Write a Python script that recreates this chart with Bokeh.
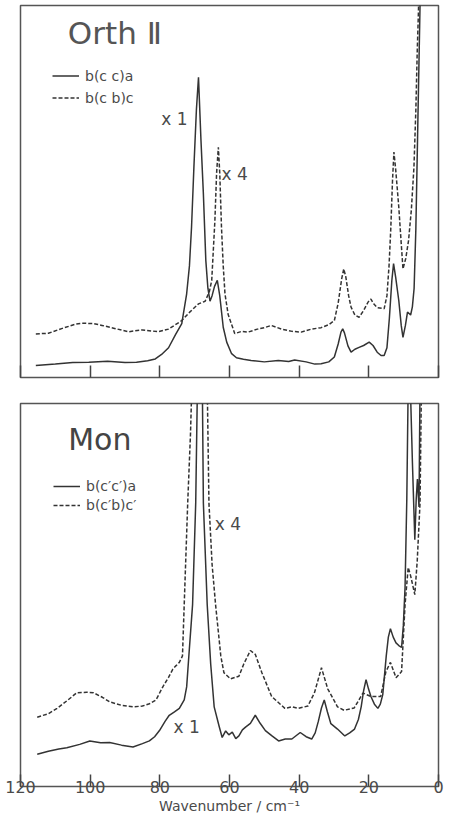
from bokeh.plotting import figure
from bokeh.layouts import column
from bokeh.models import Range1d, FixedTicker, Legend, LegendItem, Label
from bokeh.embed import file_html
from bokeh.resources import INLINE

TICKS = [120, 100, 80, 60, 40, 20, 0]
TICK_LABELS = ["120", "100", "80", "60", "40", "20", "0"]

# ---- Orth II : b(cc)a  (x1) ----
orth_cc_x = [115.6, 110, 105, 100.4, 95, 90, 86.7, 83.5, 81.3, 79.5,
             77.5, 75.5, 73.7, 72.3, 71.5, 70.9, 70.2, 69.5, 68.9, 68.2,
             67.5, 66.8, 66.2, 65.6, 65.0, 64.3, 63.5, 62.8, 61.8, 60.8,
             59.4, 58.0, 56.0, 53.8, 50, 46, 43, 41.3, 38, 35.5,
             33.7, 31.5, 29.9, 28.8, 28.0, 27.5, 27.0, 26.0, 25.1, 24.0,
             22.8, 21.5, 19.9, 18.8, 17.6, 16.5, 15.6, 14.8, 14.1, 13.4,
             12.9, 12.3, 11.4, 10.7, 10.2, 9.5, 8.9, 8.0, 7.5, 7.0,
             6.5, 6.0, 5.6, 5.3, 5.0]
orth_cc_y = [3.2, 3.6, 4.0, 4.1, 4.4, 4.0, 4.1, 4.5, 5.0, 6.2,
             8.0, 11.5, 14.5, 22.5, 30.0, 40.4, 57.0, 72.0, 80.7, 64.0,
             49.4, 31.5, 24.0, 20.5, 22.0, 24.5, 26.1, 22.0, 13.5, 9.5,
             6.4, 5.3, 4.9, 4.6, 4.2, 4.6, 4.3, 4.7, 4.2, 3.6,
             3.7, 4.2, 5.5, 9.0, 12.2, 13.1, 12.0, 8.5, 6.8, 7.6,
             8.1, 8.6, 9.5, 8.6, 6.8, 5.9, 5.9, 8.0, 16.0, 26.0,
             30.6, 27.0, 20.7, 14.0, 10.8, 14.0, 17.6, 16.8, 19.0, 24.0,
             40.0, 65.0, 85.0, 100.0, 112.0]

# ---- Orth II : b(cb)c  (x4) ----
orth_cb_x = [115.6, 112, 108, 104, 102.3, 99, 96.6, 93, 89, 85,
             80.4, 77.5, 73.7, 71.5, 68.9, 67.0, 65.8, 65.1, 64.6, 64.2,
             63.7, 63.2, 62.8, 62.3, 61.8, 61.3, 60.4, 58.5, 56.5, 54.7,
             52, 50, 48, 45, 42, 39.4, 36.5, 33.7, 31.5, 29.9,
             28.8, 27.8, 27.2, 26.6, 25.8, 25.1, 24.0, 22.8, 21.5, 20.2,
             19.4, 18.6, 17.6, 16.3, 15.6, 14.8, 14.2, 13.7, 13.2, 12.8,
             12.3, 11.4, 10.7, 10.2, 9.4, 8.6, 7.8, 7.05, 6.5, 6.1,
             5.8, 5.5]
orth_cb_y = [11.7, 11.9, 13.2, 14.4, 14.6, 14.5, 14.0, 13.2, 12.3, 12.8,
             12.3, 13.0, 15.3, 17.5, 19.8, 20.5, 23.0, 26.1, 35.0, 42.0,
             55.0, 61.9, 55.0, 40.4, 30.0, 22.5, 17.0, 11.8, 12.4, 12.2,
             13.0, 13.4, 14.0, 13.0, 12.4, 12.2, 13.0, 13.4, 14.2, 15.3,
             20.0, 26.5, 29.2, 27.0, 22.0, 18.9, 16.8, 16.2, 18.0, 20.3,
             21.1, 19.8, 18.8, 18.6, 18.5, 22.0, 30.0, 40.0, 53.0, 60.6,
             56.0, 45.8, 36.0, 29.2, 32.0, 36.8, 45.0, 56.5, 72.0, 87.9,
             97.0, 108.0]

# ---- Mon : b(c'c')a  (x1) ----
mon_cc_x = [115.2, 112, 109, 106.7, 103, 100.1, 97, 94.4, 91, 87.7,
            85, 83, 81.5, 80.1, 78.5, 77.3, 75.8, 74.4, 73.0, 72.3,
            71.6, 70.6, 69.7, 69.2, 67.8, 67.5, 66.4, 65.4, 64.4, 63.0,
            62.1, 61.1, 60.2, 59.2, 58.2, 57.3, 56.3, 55.4, 54.0, 52.6,
            51.2, 49.7, 47.8, 45.9, 44.0, 42.1, 39.7, 38.0, 36.4, 35.4,
            34.5, 33.6, 32.8, 31.9, 30.9, 29.0, 26.9, 25.5, 24.1, 23.0,
            22.2, 21.5, 20.8, 20.1, 19.4, 18.4, 17.4, 16.7, 16.0, 15.5,
            15.0, 14.4, 13.8, 13.0, 12.2, 11.4, 10.6, 10.1, 9.6, 9.1,
            8.7, 8.1, 7.5, 6.8, 6.4, 6.05, 5.6, 5.3]
mon_cc_y = [8.4, 9.2, 9.8, 10.1, 11.0, 11.9, 11.4, 11.5, 10.8, 10.3,
            11.2, 11.9, 13.0, 14.6, 17.0, 18.6, 19.5, 20.4, 22.6, 26.0,
            35.0, 47.5, 74.0, 105.0, 105.0, 74.0, 47.5, 32.0, 20.8, 15.8,
            12.8, 14.5, 13.5, 14.2, 12.5, 13.2, 14.8, 15.5, 16.5, 18.6,
            16.5, 14.6, 13.2, 11.9, 12.4, 12.4, 14.1, 13.0, 12.4, 14.0,
            17.0, 20.5, 22.6, 19.5, 16.4, 15.0, 13.2, 14.0, 15.0, 17.5,
            20.8, 25.0, 27.9, 25.5, 23.5, 21.5, 20.4, 21.5, 24.0, 29.0,
            34.1, 39.0, 41.2, 39.0, 37.5, 36.8, 36.3, 42.0, 52.0, 75.0,
            105.0, 105.0, 85.0, 64.4, 75.0, 80.3, 73.0, 105.0]

# ---- Mon : b(c'b)c'  (x4) ----
mon_cb_x = [115.2, 112, 109.5, 106.5, 103.8, 101, 99.1, 96.5, 94.4, 91,
            87.7, 85, 83, 81.1, 79.1, 77.5, 76.3, 75.4, 74.4, 73.5,
            73.0, 72.0, 71.2, 70.8, 66.4, 65.9, 65.0, 64.0, 62.5, 61.6,
            59.7, 57.3, 55.9, 54.0, 52.6, 50.7, 47.9, 44.1, 42.0, 40.3,
            37.5, 35.6, 33.6, 31.8, 29.0, 27.1, 24.2, 21.7, 19.4, 16.6,
            15.1, 13.8, 12.2, 10.6, 9.6, 8.7, 8.0, 6.8, 6.1, 5.3,
            4.9]
mon_cb_y = [18.1, 19.0, 20.4, 22.5, 24.5, 24.6, 24.5, 23.3, 22.1, 21.2,
            20.8, 21.0, 21.6, 22.6, 26.1, 28.5, 30.6, 31.5, 32.4, 34.1,
            47.5, 74.0, 92.0, 105.0, 105.0, 74.0, 58.0, 47.5, 34.1, 29.7,
            28.1, 28.8, 32.0, 35.5, 34.5, 29.7, 23.5, 20.4, 20.8, 20.4,
            21.0, 24.5, 31.0, 25.5, 20.8, 19.9, 20.5, 24.4, 23.5, 23.5,
            30.0, 32.4, 28.4, 30.0, 47.5, 57.2, 55.0, 50.1, 59.0, 74.1,
            105.0]

LINE = "#333333"
TEXT = "#4a4a4a"
FONT = "DejaVu Sans"


def make_fig(height, mb_left, mb_right, mb_top, mb_bottom):
    p = figure(width=452, height=height, x_range=Range1d(120, 0), y_range=Range1d(0, 100),
               output_backend="svg", toolbar_location=None,
               min_border_left=mb_left, min_border_right=mb_right,
               min_border_top=mb_top, min_border_bottom=mb_bottom)
    p.yaxis.visible = False
    p.grid.visible = False
    p.outline_line_color = "#555555"
    p.outline_line_width = 1.5
    xa = p.xaxis[0]
    xa.ticker = FixedTicker(ticks=TICKS)
    xa.minor_tick_line_color = None
    xa.major_tick_in = 12
    xa.major_tick_out = 0
    xa.major_tick_line_color = "#444444"
    xa.major_tick_line_width = 1.5
    xa.axis_line_color = None
    return p


def add_legend(p, r1, r2, l1, l2, loc, row_h):
    leg = Legend(items=[LegendItem(label=l1, renderers=[r1]),
                        LegendItem(label=l2, renderers=[r2])],
                 location=loc, orientation="vertical",
                 border_line_color=None, background_fill_alpha=0,
                 glyph_width=27, glyph_height=row_h, label_height=row_h,
                 label_standoff=6, spacing=1, padding=0, margin=0,
                 label_text_font=FONT, label_text_font_size="14px",
                 label_text_color=TEXT)
    p.add_layout(leg)


# ---------------- top panel ----------------
top = make_fig(390, 18, 14, 5, 13)
top.xaxis[0].major_label_overrides = {t: "" for t in TICKS}
top.xaxis[0].major_label_standoff = 0
t1 = top.line(orth_cc_x, orth_cc_y, line_color=LINE, line_width=1.5)
t2 = top.line(orth_cb_x, orth_cb_y, line_color=LINE, line_width=1.5, line_dash="4 2")
add_legend(top, t1, t2, "b(c c)a", "b(c b)c", (32, 269), 21)
top.add_layout(Label(x=106.4, y=92.5, text="Orth Ⅱ", text_font=FONT, text_font_size="31px",
                     text_color="#555555", text_baseline="middle", text_align="left"))
top.add_layout(Label(x=79.6, y=69.6, text="x 1", text_font=FONT, text_font_size="17px",
                     text_color=TEXT, text_baseline="middle", text_align="left"))
top.add_layout(Label(x=62.3, y=54.8, text="x 4", text_font=FONT, text_font_size="17px",
                     text_color=TEXT, text_baseline="middle", text_align="left"))

# ---------------- bottom panel ----------------
bot = make_fig(426, 20, 11, 13, 0)
xb = bot.xaxis[0]
xb.major_label_overrides = {t: s for t, s in zip(TICKS, TICK_LABELS)}
xb.major_label_text_font = FONT
xb.major_label_text_font_size = "16px"
xb.major_label_text_color = TEXT
xb.major_label_standoff = -6
xb.axis_label = "Wavenumber / cm⁻¹"
xb.axis_label_text_font = FONT
xb.axis_label_text_font_size = "14px"
xb.axis_label_text_font_style = "normal"
xb.axis_label_text_color = TEXT
xb.axis_label_standoff = 2
b1 = bot.line(mon_cc_x, mon_cc_y, line_color=LINE, line_width=1.5)
b2 = bot.line(mon_cb_x, mon_cb_y, line_color=LINE, line_width=1.5, line_dash="4 2")
add_legend(bot, b1, b2, "b(c′c′)a", "b(c′b)c′", (33, 272), 18)
bot.add_layout(Label(x=106.3, y=90.7, text="Mon", text_font=FONT, text_font_size="30px",
                     text_color="#444444", text_baseline="middle", text_align="left"))
bot.add_layout(Label(x=64.2, y=68.5, text="x 4", text_font=FONT, text_font_size="17px",
                     text_color=TEXT, text_baseline="middle", text_align="left"))
bot.add_layout(Label(x=76.1, y=15.5, text="x 1", text_font=FONT, text_font_size="17px",
                     text_color=TEXT, text_baseline="middle", text_align="left"))

layout = column(top, bot, spacing=0)
open("out.html", "w").write(file_html(layout, INLINE))
